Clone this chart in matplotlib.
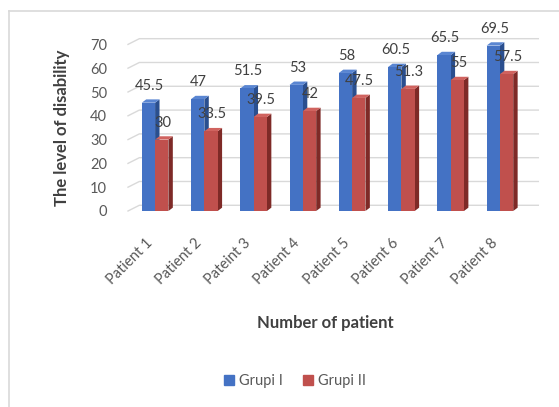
import matplotlib
matplotlib.use("Agg")
import matplotlib.pyplot as plt
from matplotlib.lines import Line2D
from matplotlib.patches import Polygon, Rectangle

plt.rcParams["font.family"] = ["Lato", "DejaVu Sans"]

PATIENTS = ["Patient 1", "Patient 2", "Pateint 3", "Patient 4",
            "Patient 5", "Patient 6", "Patient 7", "Patient 8"]
GRUPI_I = [45.5, 47, 51.5, 53, 58, 60.5, 65.5, 69.5]
GRUPI_II = [30, 33.5, 39.5, 42, 47.5, 51.3, 55, 57.5]
SERIES = ["Grupi I", "Grupi II"]
Y_TICKS = [0, 10, 20, 30, 40, 50, 60, 70]

W, H = 559, 407
BLUE = ("#4472C4", "#2A4F8F", "#5A86D2")   # front, side, top
RED = ("#C0504D", "#7E2A27", "#D0635F")
GRID = "#D9D9D9"
TEXT = "#595959"

# fake depth: back wall offset and bar thickness, in data units
WALL_DX, WALL_DY = 0.23, 2.4
BAR_DX, BAR_DY = 0.09, 1.4
BAR_W = 0.27


def px(x, y):
    return x / W, 1 - y / H


def box_bars(ax, xs, values, colors, z):
    front, side, top = colors
    bars = ax.bar(xs, values, width=BAR_W, align="edge", color=front,
                  linewidth=0, zorder=z + 0.2)
    for rect, v in zip(bars, values):
        x0, w = rect.get_x(), rect.get_width()
        ax.add_patch(Polygon([(x0 + w, 0), (x0 + w + BAR_DX, BAR_DY),
                              (x0 + w + BAR_DX, v + BAR_DY), (x0 + w, v)],
                             closed=True, color=side, lw=0, zorder=z,
                             clip_on=False))
        ax.add_patch(Polygon([(x0, v), (x0 + BAR_DX, v + BAR_DY),
                              (x0 + w + BAR_DX, v + BAR_DY), (x0 + w, v)],
                             closed=True, color=top, lw=0, zorder=z + 0.1,
                             clip_on=False))
        ax.annotate(f"{v:g}", (x0 + w / 2, v), xytext=(1, 17),
                    textcoords="offset pixels", ha="center", va="center",
                    fontsize=10.5, color="#404040", zorder=10)
    return bars


fig = plt.figure(figsize=(W / 100, H / 100), dpi=100)
left, bottom = px(128, 211)
ax = fig.add_axes([left, bottom, (527 - 128) / W, 166.6 / H])
ax.set_xlim(-0.55, 7.55)
ax.set_ylim(0, 70)
for s in ax.spines.values():
    s.set_visible(False)

# side wall + back wall gridlines
xl, xr = ax.get_xlim()
for v in Y_TICKS:
    ax.plot([xl, xl + WALL_DX, xr + WALL_DX], [v, v + WALL_DY, v + WALL_DY],
            color=GRID, lw=1, clip_on=False, zorder=0)

idx = list(range(len(PATIENTS)))
box_bars(ax, [i - BAR_W for i in idx], GRUPI_I, BLUE, 2)
box_bars(ax, idx, GRUPI_II, RED, 3)

ax.set_yticks(Y_TICKS)
ax.tick_params(axis="y", length=0, pad=15, labelsize=10.5, labelcolor=TEXT)
ax.set_xticks(idx)
ax.set_xticklabels(PATIENTS, rotation=45, ha="right")
ax.tick_params(axis="x", length=0, pad=18, labelsize=10.5, labelcolor=TEXT)

fig.text(*px(62, 128), "The level of disability", rotation=90,
         ha="center", va="center", fontsize=12, fontweight="bold",
         color="#404040")
fig.text(*px(325, 323), "Number of patient", ha="center", va="center",
         fontsize=12, fontweight="bold", color="#404040")

handles = [Rectangle((0, 0), 1, 1, color=BLUE[0]),
           Rectangle((0, 0), 1, 1, color=RED[0])]
fig.legend(handles, SERIES, loc="center", bbox_to_anchor=px(295, 381),
           ncol=2, frameon=False, handlelength=0.7, handleheight=0.7,
           handletextpad=0.3, columnspacing=1.4, fontsize=10.5,
           labelcolor=TEXT)

# chart area border (left and top edges)
fig.add_artist(Line2D([9 / W, 9 / W], [0, 1 - 11 / H], color=GRID, lw=1.2))
fig.add_artist(Line2D([9 / W, 1], [1 - 11 / H, 1 - 11 / H], color=GRID, lw=1.2))

fig.savefig("out.png", dpi=100)
